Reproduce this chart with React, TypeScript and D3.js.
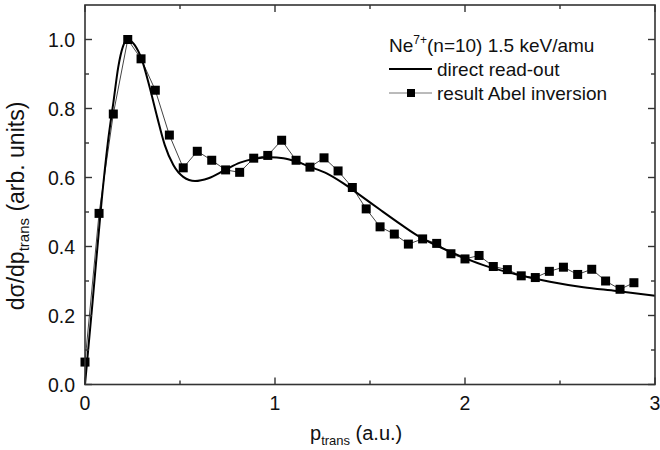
import React from 'react';
import * as d3 from 'd3';

// direct read-out (solid curve)
const directX = [0, 0.04, 0.088, 0.12, 0.15, 0.175, 0.2, 0.225, 0.26, 0.3, 0.34, 0.38, 0.42, 0.465, 0.517, 0.579, 0.65, 0.737, 0.816, 0.886, 0.974, 1.044, 1.114, 1.184, 1.272, 1.36, 1.447, 1.55, 1.66, 1.746, 1.921, 2.097, 2.272, 2.447, 2.623, 2.798, 3.0];
const directY = [0, 0.24, 0.535, 0.7, 0.82, 0.92, 0.98, 1.0, 0.985, 0.94, 0.862, 0.775, 0.694, 0.636, 0.602, 0.59, 0.598, 0.622, 0.643, 0.654, 0.659, 0.656, 0.646, 0.631, 0.612, 0.583, 0.549, 0.508, 0.465, 0.433, 0.385, 0.346, 0.319, 0.298, 0.282, 0.271, 0.257];

// result Abel inversion (squares)
const abelX = [0, 0.074, 0.149, 0.225, 0.295, 0.37, 0.444, 0.517, 0.591, 0.667, 0.74, 0.814, 0.888, 0.962, 1.035, 1.111, 1.184, 1.258, 1.332, 1.407, 1.48, 1.553, 1.628, 1.702, 1.777, 1.851, 1.926, 2.0, 2.074, 2.149, 2.223, 2.296, 2.37, 2.444, 2.518, 2.593, 2.667, 2.74, 2.816, 2.889];
const abelY = [0.065, 0.496, 0.784, 1.0, 0.944, 0.853, 0.723, 0.628, 0.676, 0.65, 0.622, 0.615, 0.656, 0.664, 0.708, 0.65, 0.63, 0.657, 0.619, 0.571, 0.509, 0.457, 0.436, 0.407, 0.422, 0.409, 0.379, 0.364, 0.374, 0.342, 0.333, 0.315, 0.31, 0.328, 0.34, 0.319, 0.334, 0.3, 0.276, 0.295];

const xMajor = [0, 1, 2, 3];
const xMinor = [0.5, 1.5, 2.5];
const yMajor = [0, 0.2, 0.4, 0.6, 0.8, 1.0];
const yMinor = [0.1, 0.3, 0.5, 0.7, 0.9];

const font = 'Liberation Sans, Arial, sans-serif';
const axisColor = '#333';
const textColor = '#111';

const App = () => {
  const width = 660;
  const height = 450;
  const x = d3.scaleLinear().domain([0, 3]).range([85, 655]);
  const y = d3.scaleLinear().domain([0, 1.1]).range([384.5, 5]);

  const direct = directX.map((d, i) => [d, directY[i]] as [number, number]);
  const abel = abelX.map((d, i) => [d, abelY[i]] as [number, number]);

  const smooth = d3
    .line<[number, number]>()
    .x((d) => x(d[0]))
    .y((d) => y(d[1]))
    .curve(d3.curveMonotoneX);
  const straight = d3
    .line<[number, number]>()
    .x((d) => x(d[0]))
    .y((d) => y(d[1]));

  const ms = 9;
  const x0 = x(0), x1 = x(3), y0 = y(0), y1 = y(1.1);

  return (
    <svg
      width={width}
      height={height}
      style={{ position: 'absolute', left: 0, top: 0, background: '#fff' }}
      fontFamily={font}
      fill={textColor}
    >
      <rect x={0} y={0} width={width} height={height} fill="#fff" />

      {/* data */}
      <path d={straight(abel) || ''} fill="none" stroke="#444" strokeWidth={1} />
      {abel.map((d, i) => (
        <rect key={i} x={x(d[0]) - ms / 2} y={y(d[1]) - ms / 2} width={ms} height={ms} fill="#000" />
      ))}
      <path d={smooth(direct) || ''} fill="none" stroke="#000" strokeWidth={2} />

      {/* frame */}
      <rect x={x0} y={y1} width={x1 - x0} height={y0 - y1} fill="none" stroke={axisColor} strokeWidth={1.6} />

      {/* x ticks */}
      {xMajor.map((t) => (
        <g key={'xm' + t}>
          <line x1={x(t)} x2={x(t)} y1={y0} y2={y0 - 7} stroke={axisColor} strokeWidth={1.4} />
          <line x1={x(t)} x2={x(t)} y1={y1} y2={y1 + 7} stroke={axisColor} strokeWidth={1.4} />
          <text x={x(t)} y={410} fontSize={19.5} textAnchor="middle">{t}</text>
        </g>
      ))}
      {xMinor.map((t) => (
        <g key={'xn' + t}>
          <line x1={x(t)} x2={x(t)} y1={y0} y2={y0 - 4} stroke={axisColor} strokeWidth={1.4} />
          <line x1={x(t)} x2={x(t)} y1={y1} y2={y1 + 4} stroke={axisColor} strokeWidth={1.4} />
        </g>
      ))}

      {/* y ticks */}
      {yMajor.map((t) => (
        <g key={'ym' + t}>
          <line x1={x0} x2={x0 + 7} y1={y(t)} y2={y(t)} stroke={axisColor} strokeWidth={1.4} />
          <line x1={x1} x2={x1 - 7} y1={y(t)} y2={y(t)} stroke={axisColor} strokeWidth={1.4} />
          <text x={75} y={y(t) + 7} fontSize={19.5} textAnchor="end">{d3.format('.1f')(t)}</text>
        </g>
      ))}
      {yMinor.map((t) => (
        <g key={'yn' + t}>
          <line x1={x0} x2={x0 + 4} y1={y(t)} y2={y(t)} stroke={axisColor} strokeWidth={1.4} />
          <line x1={x1} x2={x1 - 4} y1={y(t)} y2={y(t)} stroke={axisColor} strokeWidth={1.4} />
        </g>
      ))}

      {/* axis titles */}
      <text x={310} y={440} fontSize={20}>
        p<tspan fontSize={13} dy={5}>trans</tspan>
        <tspan dy={-5}> (a.u.)</tspan>
      </text>
      <text transform="translate(24,206) rotate(-90)" fontSize={23} textAnchor="middle">
        dσ/dp<tspan fontSize={15} dy={5}>trans</tspan>
        <tspan dy={-5}> (arb. units)</tspan>
      </text>

      {/* legend */}
      <text x={389} y={52} fontSize={19}>
        Ne<tspan fontSize={12} dy={-8}>7+</tspan>
        <tspan dy={8}>(n=10) 1.5 keV/amu</tspan>
      </text>
      <line x1={389} x2={432} y1={69} y2={69} stroke="#000" strokeWidth={2} />
      <text x={437} y={76} fontSize={19}>direct read-out</text>
      <line x1={389} x2={432} y1={93} y2={93} stroke="#777" strokeWidth={1} />
      <rect x={411 - 4} y={93 - 4} width={8} height={8} fill="#000" />
      <text x={437} y={100} fontSize={19}>result Abel inversion</text>
    </svg>
  );
};

export default App;
